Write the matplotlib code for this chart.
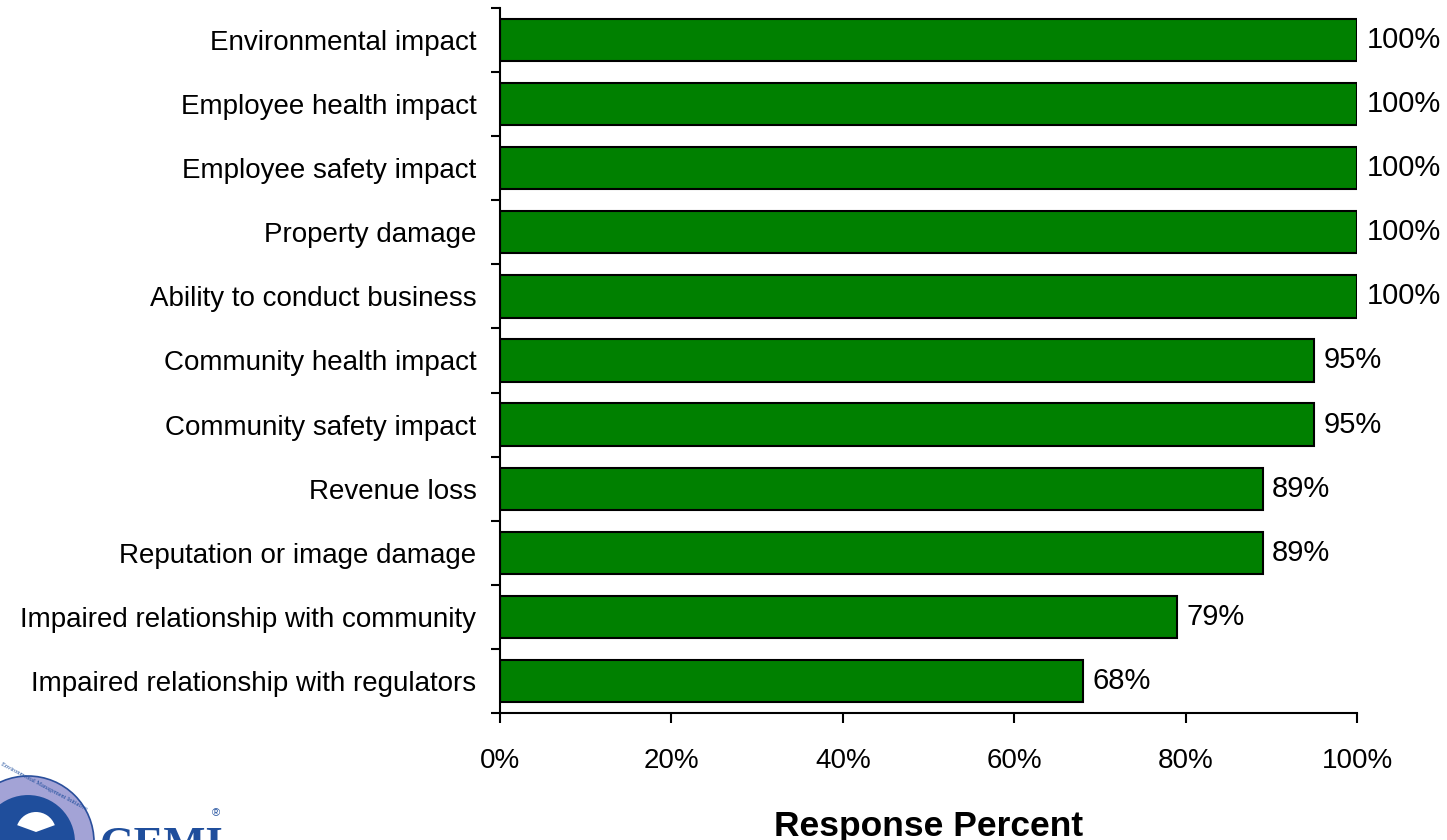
import matplotlib
matplotlib.use("Agg")
import matplotlib.pyplot as plt
from matplotlib.patches import Circle, Wedge
import numpy as np

categories = [
    "Environmental impact",
    "Employee health impact",
    "Employee safety impact",
    "Property damage",
    "Ability to conduct business",
    "Community health impact",
    "Community safety impact",
    "Revenue loss",
    "Reputation or image damage",
    "Impaired relationship with community",
    "Impaired relationship with regulators",
]
values = [100, 100, 100, 100, 100, 95, 95, 89, 89, 79, 68]
xticks = [0, 20, 40, 60, 80, 100]
xticklabels = ["0%", "20%", "40%", "60%", "80%", "100%"]

plt.rcParams['font.family'] = ['Liberation Sans', 'DejaVu Sans']

W, H = 1447, 840
fig = plt.figure(figsize=(W / 100, H / 100), dpi=100)
ax = fig.add_axes([500 / W, 1 - 713 / H, (1357 - 500) / W, (713 - 8) / H])

n = len(categories)
y = np.arange(n)
ax.barh(y, values, height=0.66, color="#008000", edgecolor="black", linewidth=1.5)
ax.set_ylim(n - 0.5, -0.5)
ax.set_xlim(0, 100)

for yi, v in zip(y, values):
    ax.text(v + 1.1, yi, f"{v}%", va="center", ha="left", fontsize=21)

# y ticks at boundaries, labels at centers
ax.set_yticks(np.arange(-0.5, n, 1.0))
ax.set_yticklabels([])
ax.set_yticks(y, minor=True)
ax.set_yticklabels(categories, minor=True, fontsize=20)
ax.tick_params(axis="y", which="major", length=6.5, width=1.5, direction="out")
ax.tick_params(axis="y", which="minor", length=0, pad=17)

ax.set_xticks(xticks)
ax.set_xticklabels(xticklabels, fontsize=20)
ax.tick_params(axis="x", length=7, width=1.5, direction="out", pad=18)

for s in ["top", "right"]:
    ax.spines[s].set_visible(False)
for s in ["left", "bottom"]:
    ax.spines[s].set_linewidth(1.5)

ax.set_xlabel("Response Percent", fontsize=25.5, fontweight="bold", labelpad=26)

# GEMI logo (approximation)
lax = fig.add_axes([0, 0, 260 / W, 100 / H])
lax.set_xlim(0, 260)
lax.set_ylim(0, 100)
lax.set_aspect("equal")
lax.axis("off")
cx, cy = 28, -2
lax.add_patch(Circle((cx, cy), 66, facecolor="#a3a3d6", edgecolor="#2a4f9c", linewidth=1.2))
lax.add_patch(Circle((cx, cy), 48, facecolor="#1f4e9c", edgecolor="#a3a3d6", linewidth=1.5))
lax.add_patch(Wedge((cx + 8, cy + 10), 20, 20, 160, facecolor="white", edgecolor="none"))
lax.text(cx + 16, cy + 55, "Environmental Management Initiative", fontsize=4.5, color="#1f4e9c",
         rotation=-28, ha="center", va="center", family="Liberation Serif")
fig.text(100 / W, 1 - 826 / H, "GEMI", fontsize=32, fontweight="bold", color="#1f4e9c",
         family="Liberation Serif", ha="left", va="top")
fig.text(212 / W, 1 - 808 / H, "®", fontsize=8, color="#1f4e9c", ha="left", va="top")

fig.savefig("out.png", dpi=100)
